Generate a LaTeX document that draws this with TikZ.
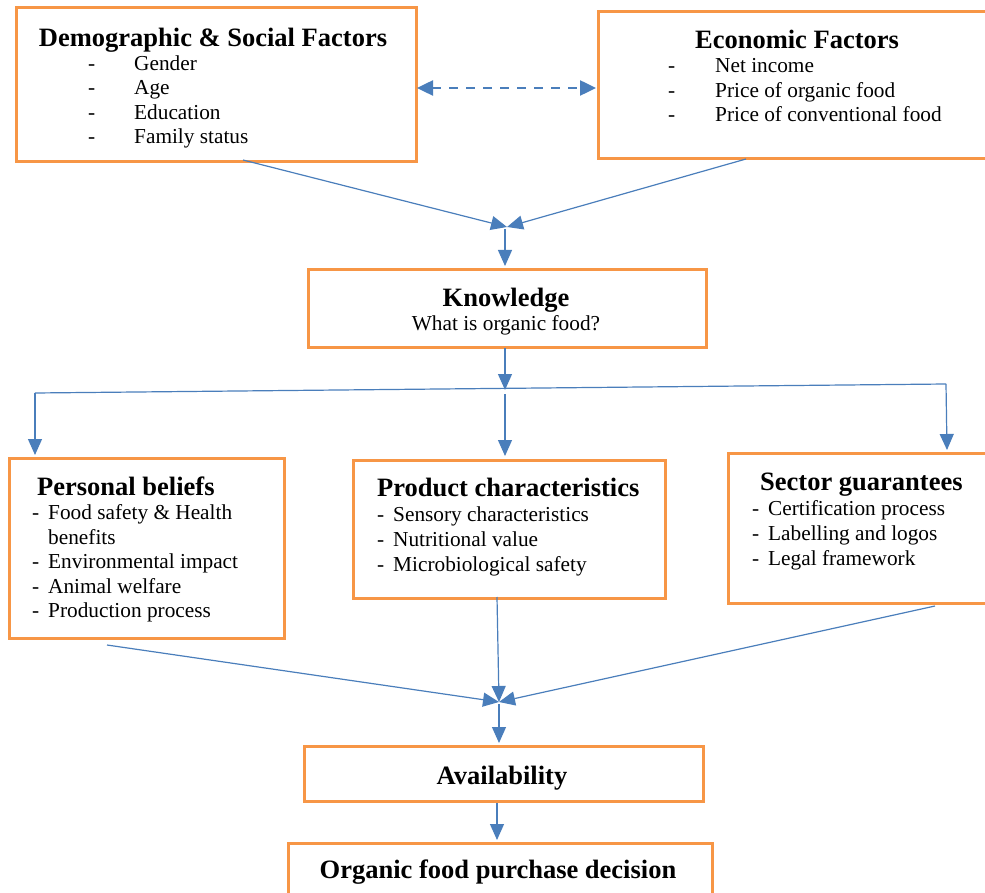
\documentclass[tikz,border=0pt]{standalone}
\usepackage{fontspec}
\setmainfont{Liberation Serif}
\usetikzlibrary{arrows.meta}
\definecolor{boxor}{HTML}{F79646}
\definecolor{arrblue}{HTML}{4A7EBB}
\tikzset{
  box/.style={draw=boxor, line width=3pt, inner sep=0pt, anchor=north west, fill=none},
  ttl/.style={font=\fontsize{26.5}{30}\selectfont\bfseries, inner sep=0pt, anchor=base, yshift=-1.5pt},
  itm/.style={font=\fontsize{21.3}{24}\selectfont, inner sep=0pt, anchor=base west, yshift=-1.5pt},
  conn/.style={draw=arrblue, line width=1.2pt, -{Triangle[length=16pt,width=14pt]}},
  plain/.style={draw=arrblue, line width=1.2pt},
  dconn/.style={draw=arrblue, line width=2.5pt, dash pattern=on 9pt off 8pt, {Triangle[length=16pt,width=15pt]}-{Triangle[length=16pt,width=15pt]}}
}
\begin{document}
\begin{tikzpicture}[x=1pt,y=-1pt]
\useasboundingbox (0,0) rectangle (985,893);
% boxes
\node[box, minimum width=400pt, minimum height=154pt] (demo) at (15,6) {};
\node[box, minimum width=396pt, minimum height=147pt] (econ) at (597,10) {};
\node[box, minimum width=398pt, minimum height=78pt] (know) at (307,268) {};
\node[box, minimum width=275pt, minimum height=180pt] (pers) at (8,457) {};
\node[box, minimum width=312pt, minimum height=138pt] (prod) at (352,459) {};
\node[box, minimum width=266pt, minimum height=150pt] (sect) at (727,452) {};
\node[box, minimum width=399pt, minimum height=55pt] (avail) at (303,745) {};
\node[box, minimum width=424pt, minimum height=60pt] (dec) at (287,842) {};
% texts: demographic
\node[ttl] (demoT) at (213,45) {Demographic \& Social Factors};
\node[itm] (d1d) at (88,69) {-}; \node[itm] (d1) at (134,69) {Gender};
\node[itm] (d2d) at (88,93) {-}; \node[itm] (d2) at (134,93) {Age};
\node[itm] (d3d) at (88,118) {-}; \node[itm] (d3) at (134,118) {Education};
\node[itm] (d4d) at (88,142) {-}; \node[itm] (d4) at (134,142) {Family status};
% economic
\node[ttl] (econT) at (797,47) {Economic Factors};
\node[itm] (e1d) at (668,71) {-}; \node[itm] (e1) at (715,71) {Net income};
\node[itm] (e2d) at (668,96) {-}; \node[itm] (e2) at (715,96) {Price of organic food};
\node[itm] (e3d) at (668,120) {-}; \node[itm] (e3) at (715,120) {Price of conventional food};
% knowledge
\node[ttl] (knowT) at (506,305) {Knowledge};
\node[itm, anchor=base] (knowS) at (506,329) {What is organic food?};
% personal beliefs
\node[ttl, anchor=base west] (persT) at (37,494) {Personal beliefs};
\node[itm] (p1d) at (32,518) {-}; \node[itm] (p1) at (48,518) {Food safety \& Health};
\node[itm] (p1b) at (48,543) {benefits};
\node[itm] (p2d) at (32,567) {-}; \node[itm] (p2) at (48,567) {Environmental impact};
\node[itm] (p3d) at (32,592) {-}; \node[itm] (p3) at (48,592) {Animal welfare};
\node[itm] (p4d) at (32,616) {-}; \node[itm] (p4) at (48,616) {Production process};
% product
\node[ttl, anchor=base west] (prodT) at (377,495) {Product characteristics};
\node[itm] (r1d) at (377,520) {-}; \node[itm] (r1) at (393,520) {Sensory characteristics};
\node[itm] (r2d) at (377,545) {-}; \node[itm] (r2) at (393,545) {Nutritional value};
\node[itm] (r3d) at (377,570) {-}; \node[itm] (r3) at (393,570) {Microbiological safety};
% sector
\node[ttl, anchor=base west] (sectT) at (760,489) {Sector guarantees};
\node[itm] (s1d) at (752,514) {-}; \node[itm] (s1) at (768,514) {Certification process};
\node[itm] (s2d) at (752,539) {-}; \node[itm] (s2) at (768,539) {Labelling and logos};
\node[itm] (s3d) at (752,564) {-}; \node[itm] (s3) at (768,564) {Legal framework};
% availability, decision
\node[ttl] (availT) at (502,783) {Availability};
\node[ttl] (decT) at (498,877) {Organic food purchase decision};
% coordinates
\coordinate (dash1) at (417,88);
\coordinate (dash2) at (596,88);
\coordinate (demoB) at (243,160);
\coordinate (econB) at (746,159);
\coordinate (j1) at (507,227);
\coordinate (j1b) at (505,229);
\coordinate (knowTop) at (505,266);
\coordinate (knowB) at (505,348);
\coordinate (j2) at (505,390);
\coordinate (hl) at (35,393);
\coordinate (hr) at (946,384);
\coordinate (hm) at (505,394);
\coordinate (persTop) at (35,455);
\coordinate (prodTop) at (505,456);
\coordinate (sectTop) at (947,450);
\coordinate (persB) at (107,645);
\coordinate (prodB) at (497,597);
\coordinate (sectB) at (935,606);
\coordinate (j3) at (499,702);
\coordinate (j3b) at (499,704);
\coordinate (availTop) at (499,743);
\coordinate (availB) at (497,803);
\coordinate (decTop) at (497,840);
% connectors
\draw[dconn] (dash1) -- (dash2);
\draw[conn] (demoB) -- (j1);
\draw[conn] (econB) -- (j1);
\draw[conn] (j1b) -- (knowTop);
\draw[conn] (knowB) -- (j2);
\draw[plain] (hl) -- (hr);
\draw[conn] (hl) -- (persTop);
\draw[conn] (hm) -- (prodTop);
\draw[conn] (hr) -- (sectTop);
\draw[conn] (persB) -- (j3);
\draw[conn] (prodB) -- (j3);
\draw[conn] (sectB) -- (j3);
\draw[conn] (j3b) -- (availTop);
\draw[conn] (availB) -- (decTop);
\end{tikzpicture}
\end{document}
